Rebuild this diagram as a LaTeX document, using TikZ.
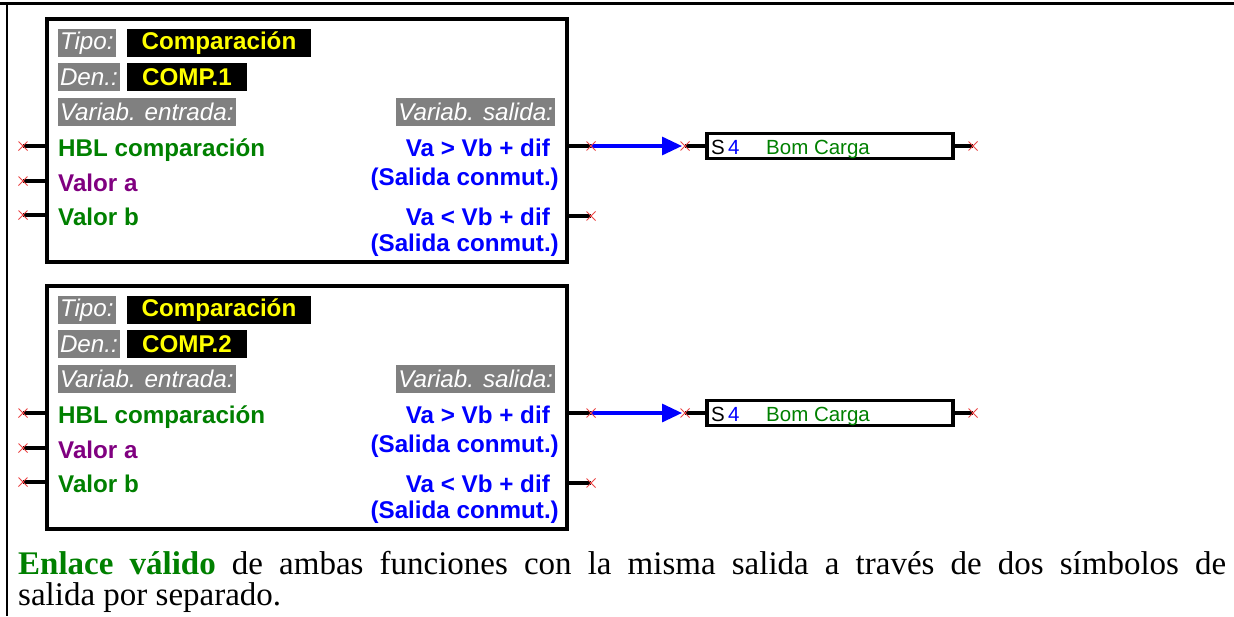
\documentclass[tikz,border=0pt]{standalone}
\usepackage{fontspec}
\setmainfont{Liberation Serif}
\setsansfont{Liberation Sans}
\usetikzlibrary{arrows.meta,shapes.misc}
\definecolor{tgreen}{RGB}{0,128,0}
\definecolor{tpurple}{RGB}{128,0,128}
\definecolor{tblue}{RGB}{0,0,255}
\definecolor{tgrey}{RGB}{128,128,128}
\definecolor{tyellow}{RGB}{255,255,0}
\definecolor{xred}{RGB}{235,70,70}
\begin{document}
\begin{tikzpicture}[x=1pt,y=-1pt,
  greylab/.style={font=\sffamily\itshape\fontsize{24.2}{28}\selectfont, fill=tgrey, text=white,
    inner xsep=2pt, inner ysep=0pt, minimum height=28pt, anchor=north west, outer sep=0pt},
  blacklab/.style={font=\sffamily\bfseries\fontsize{24.2}{28}\selectfont, fill=black, text=tyellow,
    inner sep=0pt, minimum height=28pt, anchor=north west, outer sep=0pt},
  lbl/.style={font=\sffamily\bfseries\fontsize{24.2}{28}\selectfont, inner sep=0pt},
  fbox/.style={draw=black, line width=3.6pt, inner sep=0pt, outer sep=0pt},
  stub/.style={draw=black, line width=3.6pt},
  xm/.style={cross out, draw=xred, minimum size=8pt, inner sep=0pt, line width=1pt},
  sfont/.style={font=\sffamily\fontsize{20.5}{22}\selectfont, inner sep=0pt},
  link/.style={draw=tblue, line width=3.2pt, -{Triangle[length=20pt,width=18pt]}}
]
\useasboundingbox (0,0) rectangle (1234,616);
% outer frame
\coordinate (ftl) at (0,3.7);
\coordinate (ftr) at (1234,3.7);
\coordinate (fl) at (7,3.7);
\coordinate (fb) at (7,616);
\draw[line width=3pt] (ftl) -- (ftr);
\draw[line width=2.8pt] (fl) -- (fb);

\foreach \g/\dy/\nm in {1/0/COMP.1, 2/267/COMP.2}{
\begin{scope}[yshift=-\dy pt]
  % function block
  \node[fbox, minimum width=520pt, minimum height=243pt, anchor=north west] (blk\g) at (47,19) {};
  \node[greylab] (tipo\g) at (58,29) {Tipo:};
  \node[blacklab, minimum width=184pt] (tipov\g) at (127,29) {Comparación};
  \node[greylab] (den\g) at (58,63) {Den.:};
  \node[blacklab, minimum width=120pt] (denv\g) at (127,63) {\nm};
  \node[greylab] (ve\g) at (58,98) {Variab. entrada:};
  \node[greylab, anchor=north east] (vs\g) at (555,98) {Variab. salida:};
  % inputs
  \node[lbl, text=tgreen, anchor=base west] (i1\g) at (58,156) {HBL comparación};
  \node[lbl, text=tpurple, anchor=base west] (i2\g) at (58,191) {Valor a};
  \node[lbl, text=tgreen, anchor=base west] (i3\g) at (58,225) {Valor b};
  % outputs
  \node[lbl, text=tblue, anchor=base east] (o1\g) at (550,156) {Va > Vb + dif};
  \node[lbl, text=tblue, anchor=base east] (o1b\g) at (559,185) {(Salida conmut.)};
  \node[lbl, text=tblue, anchor=base east] (o2\g) at (550,225) {Va < Vb + dif};
  \node[lbl, text=tblue, anchor=base east] (o2b\g) at (559,251) {(Salida conmut.)};
  % input stubs
  \coordinate (a1\g) at (23,146);
  \coordinate (a2\g) at (23,181);
  \coordinate (a3\g) at (23,215);
  \draw[stub] (a1\g) -- (a1\g -| blk\g.west);
  \draw[stub] (a2\g) -- (a2\g -| blk\g.west);
  \draw[stub] (a3\g) -- (a3\g -| blk\g.west);
  \node[xm] (xa1\g) at (a1\g) {};
  \node[xm] (xa2\g) at (a2\g) {};
  \node[xm] (xa3\g) at (a3\g) {};
  % output stubs
  \coordinate (q1\g) at (591,146);
  \coordinate (q2\g) at (591,216);
  \draw[stub] (blk\g.east |- q1\g) -- (q1\g);
  \draw[stub] (blk\g.east |- q2\g) -- (q2\g);
  % output symbol
  \node[fbox, minimum width=246pt, minimum height=25pt, anchor=west] (sb\g) at (707,146) {};
  \node[sfont, anchor=base west] (ss\g) at (711,154) {S};
  \node[sfont, text=tblue, anchor=base west] (sn\g) at (728,154) {4};
  \node[sfont, text=tgreen, anchor=base west] (sl\g) at (766,154) {Bom Carga};
  \coordinate (t1\g) at (685,146);
  \coordinate (r1\g) at (973,146);
  \draw[link, shorten >=3pt] (q1\g) -- (t1\g);
  \draw[stub] (t1\g) -- (sb\g.west);
  \draw[stub] (sb\g.east) -- (r1\g);
  \node[xm] (xq1\g) at (q1\g) {};
  \node[xm] (xq2\g) at (q2\g) {};
  \node[xm] (xt1\g) at (t1\g) {};
  \node[xm] (xr1\g) at (r1\g) {};
\end{scope}
}

% caption
\node[anchor=base west, inner sep=0pt, font=\fontsize{33}{31}\selectfont] (cap1) at (18,574)
  {\makebox[1208pt][s]{\textcolor{tgreen}{\textbf{Enlace válido}} de ambas funciones con la misma salida a través de dos símbolos de}};
\node[anchor=base west, inner sep=0pt, font=\fontsize{33}{31}\selectfont] (cap2) at (18,605)
  {salida por separado.};
\end{tikzpicture}
\end{document}
